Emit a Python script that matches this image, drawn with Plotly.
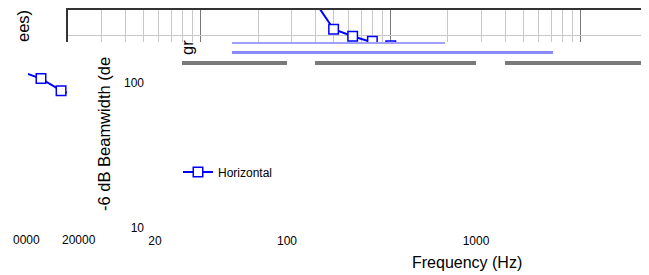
import plotly.graph_objects as go

# page body has an 8px margin, so the figure is 8px smaller and all
# positions below are given in window pixels and converted.
OFF = 8
W, H = 649 - OFF, 275 - OFF

# ---- data -------------------------------------------------------------
freq_hz = [250, 315, 400, 500, 630, 800, 1000, 1250, 1600, 2000, 2500, 3150,
           4000, 5000, 6300, 8000, 10000, 12500, 16000, 20000]
horizontal_deg = [360, 360, 340, 221, 198, 183, 170, 150, 130, 115, 103, 85,
                  75, 68, 60, 55, 50, 45, 40, 35]
series_name = "Horizontal"

x_tick_vals = [20, 100, 1000]
x_tick_text = ["20", "100", "1000"]
y_tick_vals = [10, 100]
y_tick_text = ["10", "100"]

box_major = [100, 1000, 10000]
box_minor = [20, 30, 40, 50, 60, 70, 80, 90,
             200, 300, 400, 500, 600, 700, 800, 900,
             2000, 3000, 4000, 5000, 6000, 7000, 8000, 9000]
box_hgrid = [200]

FONT = "Liberation Sans, Arial, sans-serif"
BLUE = "#0000ff"


def px(x):
    return (x - OFF) / W


def py(y):
    return 1 - (y - OFF) / H


marker = dict(symbol="square", size=9.5, color="white", line=dict(color=BLUE, width=1.5))
line = dict(color=BLUE, width=2)

fig = go.Figure()

# main axes (labels only)
fig.add_trace(go.Scatter(x=[], y=[], xaxis="x", yaxis="y", showlegend=False))

# top box fragment
fig.add_trace(go.Scatter(x=freq_hz, y=horizontal_deg, name=series_name, mode="lines+markers",
                         marker=marker, line=line, xaxis="x2", yaxis="y2", showlegend=True))
# left fragment
fig.add_trace(go.Scatter(x=freq_hz, y=horizontal_deg, name=series_name, mode="lines+markers",
                         marker=marker, line=line, xaxis="x3", yaxis="y3", showlegend=False))

# smeared band fragments (bare axis lines)
band_axes = {}
for i, (x0, x1, yy, col, lw) in enumerate([
        (182, 287, 61, "#7a7a7a", 4),
        (315, 476, 61, "#7a7a7a", 4),
        (505, 643, 61, "#7a7a7a", 4),
        (232, 553, 51, "#8a8aff", 3),
        (232, 445, 41.5, "#a0a0ff", 1.5)]):
    xa, ya = f"xaxis{4 + i}", f"yaxis{4 + i}"
    band_axes[xa] = dict(domain=[px(x0), px(x1)], anchor=f"y{4 + i}", showline=True,
                         linecolor=col, linewidth=lw, showgrid=False, zeroline=False,
                         showticklabels=False, ticks="", automargin=False)
    band_axes[ya] = dict(domain=[py(yy), py(yy) + 0.005], anchor=f"x{4 + i}", visible=False)
    fig.add_trace(go.Scatter(x=[], y=[], xaxis=f"x{4 + i}", yaxis=f"y{4 + i}", showlegend=False))

fig.update_layout(
    width=W, height=H, autosize=False,
    margin=dict(l=0, r=0, t=0, b=0),
    paper_bgcolor="white", plot_bgcolor="rgba(0,0,0,0)",
    font=dict(family=FONT, size=12, color="black"),
    xaxis=dict(domain=[px(145), px(645)], type="log", range=[1.2487, 3.894],
               tickmode="array", tickvals=x_tick_vals, ticktext=x_tick_text,
               showgrid=False, zeroline=False, showline=False, ticks="",
               automargin=False, anchor="y"),
    yaxis=dict(domain=[py(232), py(10)], type="log", range=[0.9724, 2.503],
               tickmode="array", tickvals=y_tick_vals, ticktext=y_tick_text,
               showgrid=False, zeroline=False, showline=False, ticks="",
               automargin=False, anchor="x"),
    xaxis2=dict(domain=[px(68), px(645)], type="log", range=[1.301, 4.338],
                anchor="y2", side="top", showline=True, linecolor="#333333", linewidth=1.5,
                mirror=False, showticklabels=False, ticks="",
                tickmode="array", tickvals=box_major, showgrid=True, gridcolor="#777777",
                gridwidth=1.2,
                minor=dict(tickmode="array", tickvals=box_minor, showgrid=True,
                           gridcolor="#c8c8c8", gridwidth=1),
                zeroline=False, automargin=False),
    yaxis2=dict(domain=[py(42), py(10)], type="log", range=[2.257, 2.477],
                anchor="x2", showline=True, mirror=True, linecolor="#333333", linewidth=1.5,
                showticklabels=False, ticks="", tickmode="array", tickvals=box_hgrid,
                showgrid=True, gridcolor="#c8c8c8", zeroline=False, automargin=False),
    xaxis3=dict(domain=[px(28), px(67)], type="log", range=[3.333, 3.528],
                anchor="y3", visible=False),
    yaxis3=dict(domain=[py(97), py(68)], type="log", range=[1.886, 2.086],
                anchor="x3", visible=False),
    legend=dict(x=px(178), y=py(172), xanchor="left", yanchor="middle",
                bgcolor="rgba(0,0,0,0)", borderwidth=0, font=dict(size=12)),
    annotations=[
        dict(text="-6 dB Beamwidth (de", x=px(104), y=py(134), xref="paper", yref="paper",
             textangle=-90, showarrow=False, font=dict(size=16.5), xanchor="center", yanchor="middle"),
        dict(text="gr", x=px(187), y=py(48), xref="paper", yref="paper",
             textangle=-90, showarrow=False, font=dict(size=16.5), xanchor="center", yanchor="middle"),
        dict(text="ees)", x=px(23), y=py(26), xref="paper", yref="paper",
             textangle=-90, showarrow=False, font=dict(size=16.5), xanchor="center", yanchor="middle"),
        dict(text="0000", x=px(26), y=py(240), xref="paper", yref="paper",
             showarrow=False, font=dict(size=12), xanchor="center", yanchor="middle"),
        dict(text="20000", x=px(78.5), y=py(240), xref="paper", yref="paper",
             showarrow=False, font=dict(size=12), xanchor="center", yanchor="middle"),
        dict(text="Frequency (Hz)", x=px(467), y=py(262), xref="paper", yref="paper",
             showarrow=False, font=dict(size=16), xanchor="center", yanchor="middle"),
    ],
    **band_axes,
)

fig.write_html("out.html")
